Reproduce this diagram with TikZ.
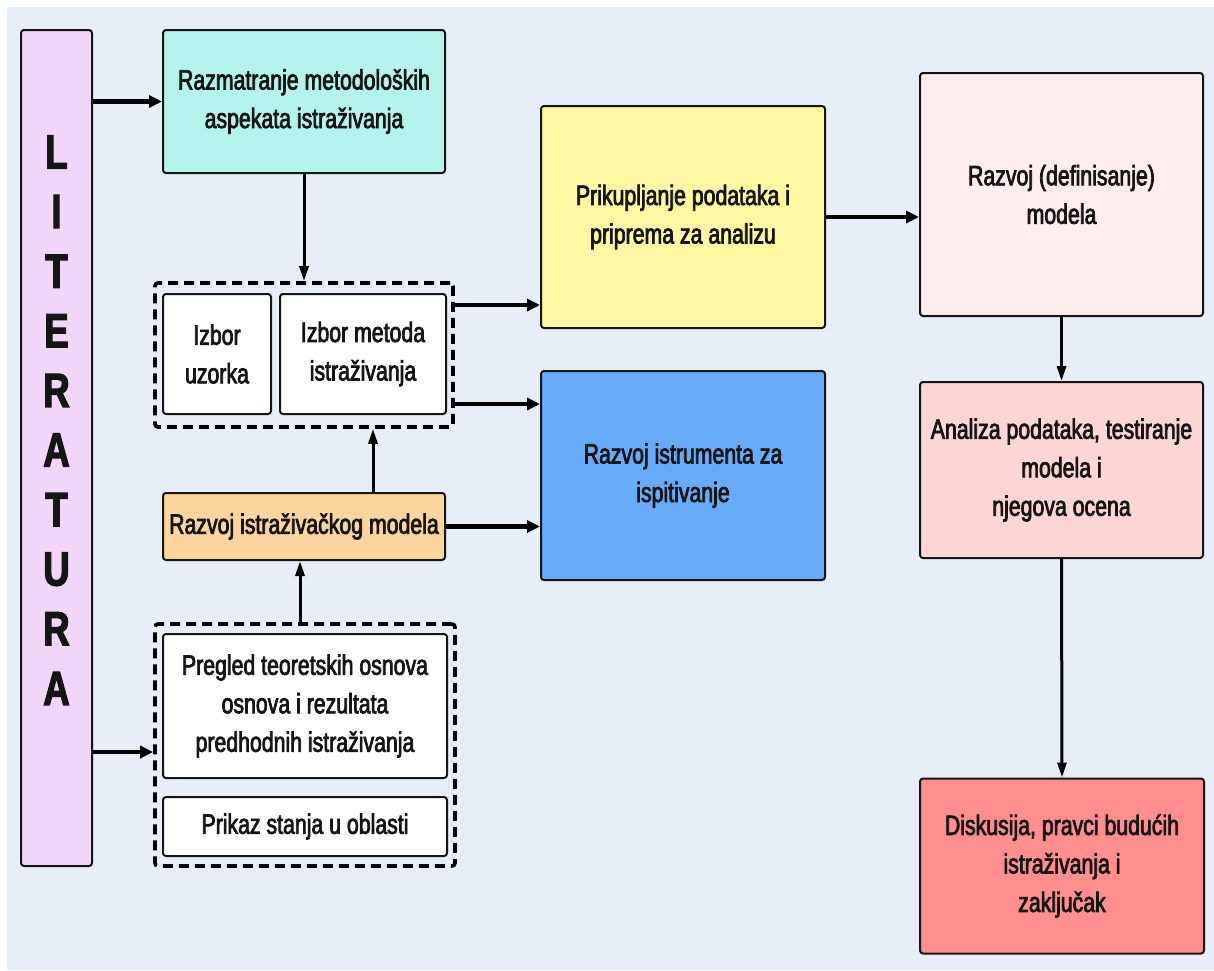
\documentclass[tikz,border=0pt]{standalone}
\usepackage{fontspec}
\setmainfont{Liberation Sans}[FakeStretch=0.76,FakeBold=2.6]
\usetikzlibrary{arrows.meta}

\definecolor{bgc}{HTML}{E8EEF7}
\definecolor{litc}{HTML}{F2D6F8}
\definecolor{tealc}{HTML}{B3F3EB}
\definecolor{yelc}{HTML}{FDF6A2}
\definecolor{bluec}{HTML}{68ABF9}
\definecolor{orac}{HTML}{FAD59E}
\definecolor{pinkc}{HTML}{FDEDED}
\definecolor{rosec}{HTML}{FCD5D5}
\definecolor{redc}{HTML}{FF8F8F}
\definecolor{inkc}{HTML}{151515}

\begin{document}
\begin{tikzpicture}[x=1pt,y=-1pt,
  box/.style={draw=inkc, line width=2pt, rounded corners=3pt, align=center,
    inner sep=0pt, text=inkc, font=\fontsize{28}{38.5}\selectfont},
  grp/.style={draw=black, line width=3.6pt, dash pattern=on 10pt off 6pt,
    rounded corners=3pt, inner sep=0pt},
  arr/.style={draw=black, line width=4.3pt, -{Triangle[length=13pt,width=12pt]}},
  varr/.style={draw=black, line width=3pt, -{Triangle[length=15pt,width=9pt]}},
]
\useasboundingbox (0,0) rectangle (1214,970);
\fill[bgc] (7,7) rectangle (1214,970);

% left column: literature bar
\node[box, fill=litc, minimum width=71pt, minimum height=836pt] (lit) at (56.5,448) {};
\foreach \ch [count=\i from 0] in {L,I,T,E,R,A,T,U,R,A}
  \node[text=inkc, font=\fontsize{48}{48}\selectfont\bfseries] (lit\i) at (56.5,152+59.6*\i) {\ch};

% second column
\node[box, fill=tealc, minimum width=282pt, minimum height=143pt] (razm) at (304,101.5)
  {Razmatranje metodoloških\\aspekata istraživanja};
\node[grp, minimum width=298pt, minimum height=144pt] (grpA) at (304,355) {};
\node[box, fill=white, minimum width=108pt, minimum height=120pt] (uzorak) at (217,354)
  {Izbor\\uzorka};
\node[box, fill=white, minimum width=166pt, minimum height=120pt] (metoda) at (363,354)
  {Izbor metoda\\istraživanja};
\node[box, fill=orac, minimum width=282pt, minimum height=67pt] (model) at (304,526.5)
  {Razvoj istraživačkog modela};
\node[grp, minimum width=300pt, minimum height=242pt] (grpB) at (305,745) {};
\node[box, fill=white, minimum width=284pt, minimum height=144pt] (pregled) at (305,706)
  {Pregled teoretskih osnova\\osnova i rezultata\\predhodnih istraživanja};
\node[box, fill=white, minimum width=284pt, minimum height=59pt] (prikaz) at (305,826.5)
  {Prikaz stanja u oblasti};

% third column
\node[box, fill=yelc, minimum width=284pt, minimum height=222pt] (prik) at (683,217)
  {Prikupljanje podataka i\\priprema za analizu};
\node[box, fill=bluec, minimum width=284pt, minimum height=209pt] (instr) at (683,475.5)
  {Razvoj istrumenta za\\ispitivanje};

% right column
\node[box, fill=pinkc, minimum width=283pt, minimum height=243pt] (defmod) at (1061.5,194.5)
  {Razvoj (definisanje)\\modela};
\node[box, fill=rosec, minimum width=283pt, minimum height=176pt] (anal) at (1061.5,470)
  {Analiza podataka, testiranje\\modela i\\njegova ocena};
\node[box, fill=redc, minimum width=284pt, minimum height=175pt] (disk) at (1062,866)
  {Diskusija, pravci budućih\\istraživanja i\\zaključak};

% connector anchors
\coordinate (rowY) at (0,305);
\coordinate (rowB) at (0,404);
\coordinate (colM) at (373,0);
\coordinate (colP) at (300,0);
\coordinate (rowL) at (0,752);

% connectors
\draw[arr] (lit.east |- razm.west) -- (razm.west);
\draw[varr] (razm.south) -- (grpA.north);
\draw[arr] (grpA.east |- rowY) -- (prik.west |- rowY);
\draw[arr] (grpA.east |- rowB) -- (instr.west |- rowB);
\draw[varr] (colM |- model.north) -- (colM |- grpA.south);
\draw[arr] (model.east) -- (instr.west |- model.east);
\draw[varr] (colP |- grpB.north) -- (colP |- model.south);
\draw[arr] (lit.east |- rowL) -- (grpB.west |- rowL);
\draw[arr] (prik.east) -- (defmod.west |- prik.east);
\draw[varr] (defmod.south) -- (anal.north);
\draw[varr] (anal.south) -- (disk.north);
\end{tikzpicture}
\end{document}
